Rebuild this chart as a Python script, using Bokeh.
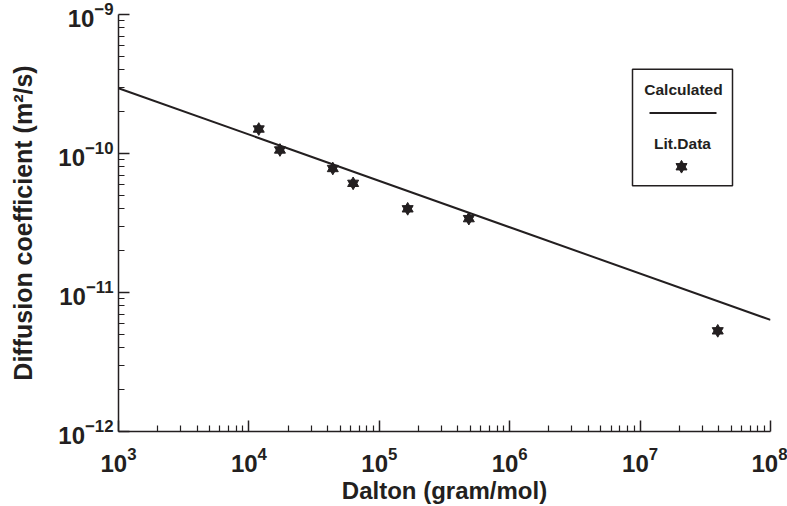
from bokeh.plotting import figure
from bokeh.models import FixedTicker, LogTickFormatter, BoxAnnotation, Label
from bokeh.embed import file_html
from bokeh.resources import INLINE

# Data
mass = [1.19e4, 1.73e4, 4.4e4, 6.3e4, 1.65e5, 4.86e5, 3.94e7]
diff = [1.50e-10, 1.06e-10, 7.8e-11, 6.1e-11, 4.0e-11, 3.4e-11, 5.3e-12]
calc_x = [1e3, 1e8]
calc_y = [2.95e-10, 6.35e-12]

x_major = [1e3, 1e4, 1e5, 1e6, 1e7, 1e8]
y_major = [1e-12, 1e-11, 1e-10, 1e-9]

FONT = "Liberation Sans"
INK = "#231f20"

p = figure(width=787, height=506, x_axis_type="log", y_axis_type="log",
           x_range=(1e3, 1e8), y_range=(1e-12, 1e-9),
           output_backend="svg", toolbar_location=None,
           min_border_left=118, min_border_right=17, min_border_top=14, min_border_bottom=73)
p.outline_line_color = None
p.xgrid.visible = False
p.ygrid.visible = False

def minors(majors):
    out = []
    for m in majors[:-1]:
        out += [m * k for k in range(2, 10)]
    return out

for ax, majors in ((p.xaxis[0], x_major), (p.yaxis[0], y_major)):
    ax.ticker = FixedTicker(ticks=majors, minor_ticks=minors(majors))
    ax.formatter = LogTickFormatter()
    ax.major_tick_in = 11
    ax.major_tick_out = 0
    ax.minor_tick_in = 6
    ax.minor_tick_out = 0
    ax.axis_line_color = INK
    ax.axis_line_width = 1.5
    ax.major_tick_line_color = INK
    ax.major_tick_line_width = 1.5
    ax.minor_tick_line_color = INK
    ax.minor_tick_line_width = 1.2
    ax.major_label_text_font = FONT
    ax.major_label_text_font_style = "bold"
    ax.major_label_text_font_size = "24px"
    ax.major_label_text_color = INK
    ax.axis_label_text_font = FONT
    ax.axis_label_text_font_style = "bold"
    ax.axis_label_text_font_size = "24px"
    ax.axis_label_text_color = INK

p.xaxis.axis_label = "Dalton (gram/mol)"
p.yaxis.axis_label = "Diffusion coefficient (m\u00b2/s)"
p.yaxis.axis_label_text_font_size = "25px"
p.xaxis.major_label_standoff = 15
p.yaxis.major_label_standoff = 5
p.xaxis.axis_label_standoff = 2
p.yaxis.axis_label_standoff = 18

# Calculated line
p.line(calc_x, calc_y, line_color=INK, line_width=2)

# Literature data (six-pointed stars)
def star(xs, ys):
    p.scatter(xs, ys, marker="triangle", size=11, color=INK)
    p.scatter(xs, ys, marker="inverted_triangle", size=11, color=INK)

star(mass, diff)

# Legend (positioned in screen pixels, converted to data coordinates)
def xd(px):
    return 10 ** (3 + (px - 118) / 130.4)

def yd(py):
    return 10 ** (-9 - (py - 14) / 139.7)

p.add_layout(BoxAnnotation(left=xd(632), right=xd(732), top=yd(69), bottom=yd(186),
                           fill_alpha=0, line_color=INK, line_alpha=1, line_width=1.5))
p.add_layout(Label(x=xd(683), y=yd(89), text="Calculated", text_font=FONT,
                   text_font_style="bold", text_font_size="15.5px", text_color=INK,
                   text_align="center", text_baseline="middle"))
p.segment(x0=[xd(649)], y0=[yd(113)], x1=[xd(716)], y1=[yd(113)], line_color=INK, line_width=2)
p.add_layout(Label(x=xd(682), y=yd(144), text="Lit.Data", text_font=FONT,
                   text_font_style="bold", text_font_size="15.5px", text_color=INK,
                   text_align="center", text_baseline="middle"))
star([xd(681)], [yd(167)])

open("out.html", "w").write(file_html(p, INLINE))
